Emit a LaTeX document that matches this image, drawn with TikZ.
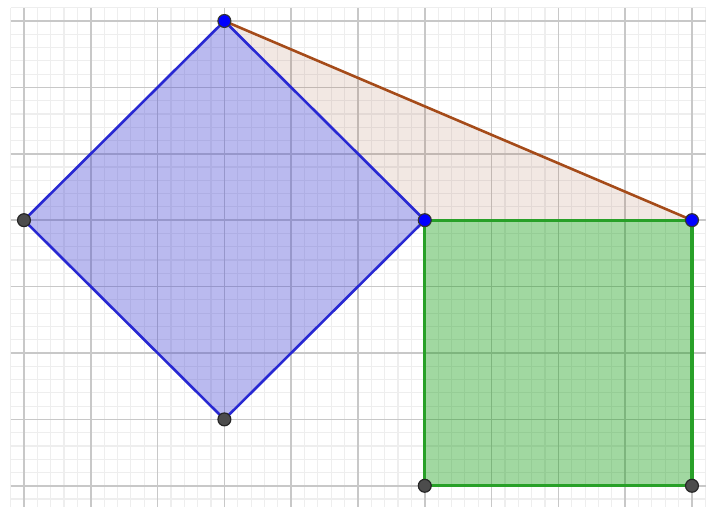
\documentclass[tikz,border=0pt]{standalone}
\begin{document}
\begin{tikzpicture}[x=1cm,y=0.994cm,
  minorgrid/.style={draw={rgb,255:red,238;green,238;blue,238},line width=0.5pt},
  majorgrid/.style={draw={rgb,255:red,200;green,200;blue,200},line width=0.7pt},
  bluept/.style={circle,fill={rgb,255:red,0;green,0;blue,255},draw=black!80,line width=0.5pt,inner sep=0pt,minimum size=5.5pt},
  graypt/.style={circle,fill=black!70,draw=black!85,line width=0.5pt,inner sep=0pt,minimum size=5.5pt},
  diamondfill/.style={fill={rgb,255:red,60;green,60;blue,210},fill opacity=0.35},
  diamondedge/.style={draw={rgb,255:red,40;green,40;blue,210},line width=1.1pt,line join=round},
  squarefill/.style={fill={rgb,255:red,0;green,150;blue,0},fill opacity=0.37},
  squareedge/.style={draw={rgb,255:red,40;green,160;blue,40},line width=1.3pt,line join=round},
  trifill/.style={fill={rgb,255:red,160;green,82;blue,45},fill opacity=0.13},
  triedge/.style={draw={rgb,255:red,165;green,75;blue,25},line width=1.1pt}]
\useasboundingbox (-0.359,-4.319) rectangle (10.21,3.316);
\fill[white] (-0.359,-4.319) rectangle (10.21,3.316);
% minor grid
\foreach \i in {-1,...,52} {\draw[minorgrid] (\i/5,-4.319) -- (\i/5,3.2);}
\foreach \j in {-21,...,16} {\draw[minorgrid] (-0.2,\j/5) -- (10.21,\j/5);}
% major grid
\foreach \i in {0,...,10} {\draw[majorgrid] (\i,-4.319) -- (\i,3.2);}
\foreach \j in {-4,...,3} {\draw[majorgrid] (-0.2,\j) -- (10.21,\j);}
% points
\coordinate (A) at (3,3);
\coordinate (B) at (0,0);
\coordinate (C) at (3,-3);
\coordinate (D) at (6,0);
\coordinate (E) at (10,0);
\coordinate (F) at (10,-4);
\coordinate (G) at (6,-4);
% fills
\path[trifill] (A) -- (D) -- (E) -- cycle;
\path[diamondfill] (A) -- (B) -- (C) -- (D) -- cycle;
\path[squarefill] (D) -- (E) -- (F) -- (G) -- cycle;
% edges
\draw[triedge] (A) -- (E);
\draw[diamondedge] (A) -- (B) -- (C) -- (D) -- cycle;
\draw[squareedge] (D) -- (E) -- (F) -- (G) -- cycle;
% dots
\node[bluept] (pA) at (A) {};
\node[graypt] (pB) at (B) {};
\node[graypt] (pC) at (C) {};
\node[bluept] (pD) at (D) {};
\node[bluept] (pE) at (E) {};
\node[graypt] (pF) at (F) {};
\node[graypt] (pG) at (G) {};
\end{tikzpicture}
\end{document}
